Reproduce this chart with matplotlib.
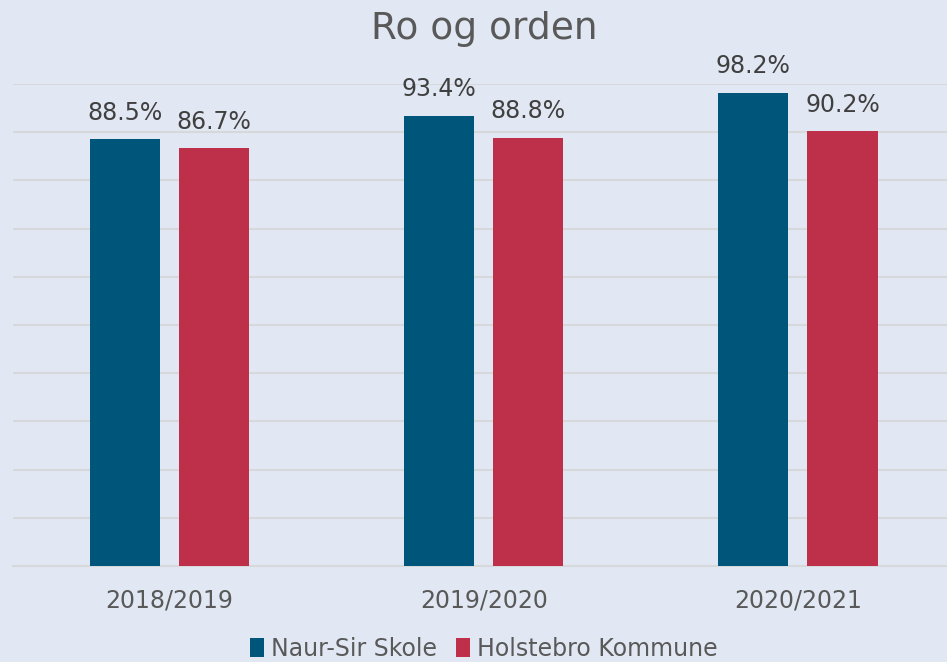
import numpy as np
import matplotlib
matplotlib.use("Agg")
import matplotlib.pyplot as plt

categories = ["2018/2019", "2019/2020", "2020/2021"]
naur_sir = [88.5, 93.4, 98.2]
holstebro = [86.7, 88.8, 90.2]
series_names = ["Naur-Sir Skole", "Holstebro Kommune"]

BG = "#E1E8F3"
BLUE = "#00567A"
RED = "#BE304A"
GRID = "#D6D8DB"

plt.rcParams["font.family"] = ["DejaVu Sans"]

fig = plt.figure(figsize=(9.47, 6.62), dpi=100)
fig.patch.set_facecolor(BG)
ax = fig.add_axes([12.5 / 947, 96 / 662, 942.5 / 947, 482 / 662])
ax.set_facecolor(BG)

x = np.arange(len(categories))
w = 0.223
off = 0.142
b1 = ax.bar(x - off, naur_sir, w, color=BLUE, label=series_names[0], zorder=3)
b2 = ax.bar(x + off, holstebro, w, color=RED, label=series_names[1], zorder=3)

for bars, vals in [(b1, naur_sir), (b2, holstebro)]:
    for r, v in zip(bars, vals):
        ax.annotate(f"{v:.1f}%", (r.get_x() + r.get_width() / 2, v),
                    xytext=(0, 10.5), textcoords="offset points",
                    ha="center", va="bottom", fontsize=17, color="#404040")

ax.set_xlim(-0.5, 2.5)
ax.set_ylim(0, 100)
ax.set_yticks(np.arange(0, 101, 10))
ax.yaxis.grid(True, color=GRID, linewidth=1.5, zorder=0)
ax.tick_params(axis="y", left=False, labelleft=False)
ax.tick_params(axis="x", length=0, pad=16, labelsize=17, labelcolor="#595959")
ax.set_xticks(x)
ax.set_xticklabels(categories)
for s in ["top", "right", "left"]:
    ax.spines[s].set_visible(False)
ax.spines["bottom"].set_color(GRID)
ax.spines["bottom"].set_linewidth(1.5)

fig.text(0.511, 0.956, "Ro og orden", ha="center", va="center",
         fontsize=27, color="#595959")

fig.legend(loc="center", bbox_to_anchor=(0.511, 0.02), ncol=2, frameon=False,
           fontsize=17, labelcolor="#595959", handlelength=0.6, handleheight=0.9,
           handletextpad=0.3, columnspacing=0.8)

fig.savefig("out.png", dpi=100, facecolor=BG)
